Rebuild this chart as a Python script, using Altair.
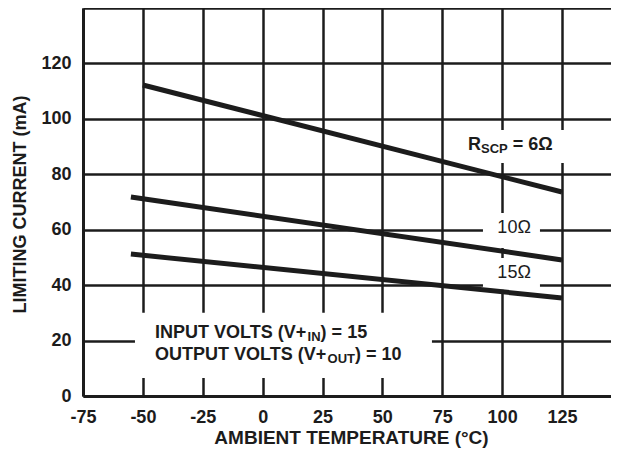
import altair as alt
import pandas as pd

# ---- data ----
temps_6 = [-50, 125]
cur_6 = [112.2, 73.6]
temps_10 = [-55, 125]
cur_10 = [71.8, 49.1]
temps_15 = [-55, 125]
cur_15 = [51.2, 35.4]

x_ticks = [-75, -50, -25, 0, 25, 50, 75, 100, 125]
y_ticks = [0, 20, 40, 60, 80, 100, 120, 140]

PX_X = 479 / 200.0
W, H = 528, 388
X_MIN = -75
X_MAX = X_MIN + W / PX_X
Y_MIN, Y_MAX = 0, 140
PX_Y = H / (Y_MAX - Y_MIN)

INK = "#1c1c1c"
FONT = "Liberation Sans"
FS = 18
FS_SUB = 13

# white label backgrounds (x0, x1, y0, y1) in data units
box_x0 = [84.5, 92.0, 92.0, -53.3]
box_x1 = [126.3, 115.8, 115.8, 70.7]
box_y0 = [84.1, 53.4, 38.3, 6.5]
box_y1 = [96.0, 66.0, 49.8, 30.0]

# Arial-Bold advance widths (per em) for label layout
AW = {" ": .278, "(": .333, ")": .333, "+": .584, "=": .584, "A": .722, "C": .722,
      "E": .667, "I": .278, "L": .611, "N": .722, "O": .778, "P": .667, "R": .722,
      "S": .667, "T": .611, "U": .722, "V": .667, "\u03a9": .768}


def tw(s, size):
    return sum(AW.get(c, .556) for c in s) * size


def compose(parts, x_left, y_base):
    """parts: list of (text, is_sub). returns rows of text pieces"""
    rows = []
    off = 0.0
    for txt, sub in parts:
        size = FS_SUB if sub else FS
        lead = len(txt) - len(txt.lstrip(" "))
        off_here = off + tw(" " * lead, size)
        rows.append({"x": x_left + off_here / PX_X,
                     "y": y_base - (3 / PX_Y if sub else 0),
                     "t": txt.strip(" "), "sub": sub})
        off += tw(txt, size)
    return rows


label_rows = []
label_rows += compose([("R", False), ("SCP", True), (" = 6\u03a9", False)], 85.75, 88.8)
label_rows += compose([("INPUT VOLTS (V+", False), ("IN", True), (") = 15", False)], -44.9, 20.9)
label_rows += compose([("OUTPUT VOLTS (V+", False), ("OUT", True), (") = 10", False)], -44.9, 13.0)
labels = pd.DataFrame(label_rows)

res_labels = pd.DataFrame({"x": [105, 105], "y": [60.6, 44.4], "t": ["10\u03a9", "15\u03a9"]})

lines = pd.DataFrame({
    "temp": temps_6 + temps_10 + temps_15,
    "cur": cur_6 + cur_10 + cur_15,
    "r": ["6"] * len(temps_6) + ["10"] * len(temps_10) + ["15"] * len(temps_15),
})
boxes = pd.DataFrame({"x0": box_x0, "x1": box_x1, "y0": box_y0, "y1": box_y1})

xscale = alt.Scale(domain=[X_MIN, X_MAX], nice=False, zero=False)
yscale = alt.Scale(domain=[Y_MIN, Y_MAX], nice=False, zero=False)

xaxis = alt.Axis(values=x_ticks, title="AMBIENT TEMPERATURE (\u00b0C)", grid=True,
                 ticks=False, tickSize=0, labelPadding=12, labelFlush=False,
                 labelExpr="toString(datum.value)", titleFontSize=19,
                 titleX=268, titleY=41, titleBaseline="middle", titleAlign="center")
yaxis = alt.Axis(values=y_ticks, title="LIMITING CURRENT (mA)", grid=True,
                 ticks=False, tickSize=0, labelPadding=12, labelFlush=False,
                 labelExpr="datum.value == 140 ? '' : toString(datum.value)",
                 titleX=-63, titleY=H / 2 + 2, titleAngle=270,
                 titleBaseline="middle", titleAlign="center")

rect_layer = alt.Chart(boxes).mark_rect(color="white").encode(
    x=alt.X("x0:Q", scale=xscale, axis=xaxis), x2="x1:Q",
    y=alt.Y("y0:Q", scale=yscale, axis=yaxis), y2="y1:Q",
)

line_layer = alt.Chart(lines).mark_line(color=INK, strokeWidth=5, strokeCap="butt").encode(
    x=alt.X("temp:Q", scale=xscale, axis=xaxis),
    y=alt.Y("cur:Q", scale=yscale, axis=yaxis),
    detail="r:N",
)

main_text = alt.Chart(labels).transform_filter("!datum.sub").mark_text(
    align="left", baseline="alphabetic", font=FONT, fontSize=FS, fontWeight="bold", color=INK
).encode(x=alt.X("x:Q", scale=xscale, axis=xaxis), y=alt.Y("y:Q", scale=yscale, axis=yaxis), text="t:N")

sub_text = alt.Chart(labels).transform_filter("datum.sub").mark_text(
    align="left", baseline="alphabetic", font=FONT, fontSize=FS_SUB, fontWeight="bold", color=INK
).encode(x=alt.X("x:Q", scale=xscale, axis=xaxis), y=alt.Y("y:Q", scale=yscale, axis=yaxis), text="t:N")

res_text = alt.Chart(res_labels).mark_text(
    align="center", baseline="middle", font=FONT, fontSize=FS, color=INK
).encode(x=alt.X("x:Q", scale=xscale, axis=xaxis), y=alt.Y("y:Q", scale=yscale, axis=yaxis), text="t:N")

chart = alt.layer(rect_layer, line_layer, main_text, sub_text, res_text).properties(
    width=W, height=H,
    autosize=alt.AutoSizeParams(type="none"),
    padding={"left": 75, "top": 0, "right": 0, "bottom": 56},
    background="white",
).configure_view(stroke=None).configure_axis(
    domainColor=INK, domainWidth=3, gridColor=INK, gridWidth=2.5, gridOpacity=1,
    labelFont=FONT, labelFontSize=FS, labelFontWeight="bold", labelColor=INK,
    titleFont=FONT, titleFontSize=FS, titleFontWeight="bold", titleColor=INK,
)

chart.save("out.html", embed_options={"renderer": "svg", "actions": False})
